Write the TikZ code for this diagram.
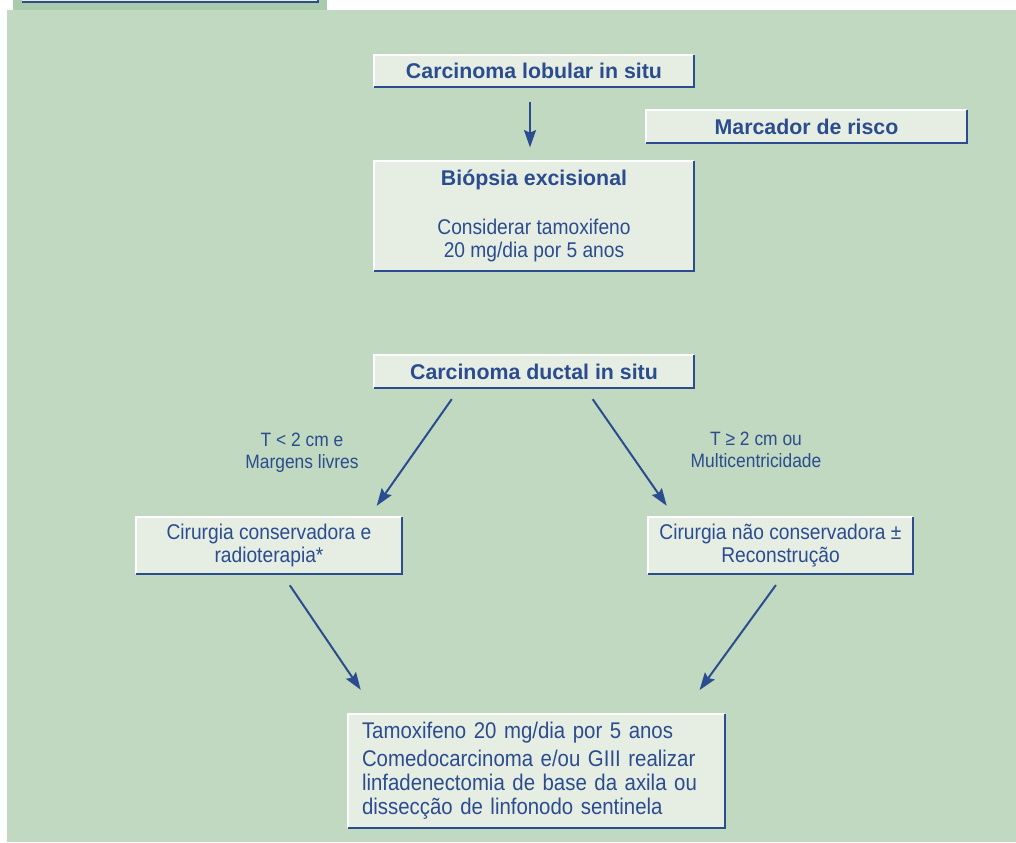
\documentclass[tikz,border=0pt]{standalone}
\usepackage{fontspec}
\setmainfont{Liberation Sans}
\newfontfamily\narrowfont[FakeStretch=0.9]{Liberation Sans}
\usetikzlibrary{arrows.meta,calc}
\definecolor{panelgreen}{HTML}{C0D9C0}
\definecolor{stripgreen}{HTML}{A9CBAB}
\definecolor{boxfill}{HTML}{E6EEE4}
\definecolor{navy}{HTML}{2B4C8E}

\begin{document}
\begin{tikzpicture}[x=0.75pt, y=-0.75pt, >={Stealth[length=13pt,width=9pt,inset=2pt]},
		box/.style={fill=boxfill, inner sep=0pt, text=navy, align=center},
		title/.style={box, font=\bfseries\fontsize{16}{19}\selectfont},
		plain/.style={box, font=\narrowfont\fontsize{16}{17.25}\selectfont},
		cond/.style={text=navy, align=center, inner sep=0pt, font=\narrowfont\fontsize{14.5}{16.5}\selectfont},
		arr/.style={->, draw=navy, fill=navy, line width=1.5pt}]
		\useasboundingbox (0,0) rectangle (1016,842);
		% green panels
		\fill[panelgreen] (7,10) rectangle (1016,842);
		\fill[stripgreen] (13,0) rectangle (327,10);
		\fill[boxfill] (22,0) rectangle (318,2);
		\draw[navy, line width=1.5pt] (22,2) -- (318,2) -- (318,0);
		% lobular branch
		\node[title, minimum width=240pt, minimum height=24pt] (lobular) at (534,71) {Carcinoma lobular in situ};
		\node[title, minimum width=240.75pt, minimum height=24.75pt] (risco) at (806.5,126.5) {Marcador de risco};
		\node[plain, minimum width=240pt, minimum height=82.5pt] (biopsia) at (534,216)
			{{\normalfont\bfseries Biópsia excisional}\\[19.5pt]Considerar tamoxifeno\\20 mg/dia por 5 anos};
		% ductal branch
		\node[title, minimum width=240pt, minimum height=24.75pt] (ductal) at (534,371.5) {Carcinoma ductal in situ};
		\node[plain, minimum width=199.5pt, minimum height=42.75pt] (conserv) at (269,545.5)
			{Cirurgia conservadora e\\radioterapia*};
		\node[plain, minimum width=198.75pt, minimum height=42.75pt] (naoconserv) at (780.5,545.5)
			{Cirurgia não conservadora ±\\Reconstrução};
		\node[plain, align=left, text width=261.75pt, inner xsep=10.5pt, minimum height=85.5pt,
			font=\narrowfont\fontsize{17}{18}\selectfont] (tamox) at (536.5,771)
			{Tamoxifeno 20 mg/dia por 5 anos\\[3pt]Comedocarcinoma e/ou GIII realizar\\linfadenectomia de base da axila ou\\dissecção de linfonodo sentinela};
		% raised borders
		\foreach \n in {lobular,risco,biopsia,ductal,conserv,naoconserv,tamox} {
			\draw[white, line width=1.5pt] (\n.south west) -- (\n.north west) -- (\n.north east);
			\draw[navy, line width=1.5pt] (\n.north east) -- (\n.south east) -- (\n.south west);
		}
		% arrows
		\draw[arr, shorten <=11pt, shorten >=10pt] ($(lobular.south)+(-4,0)$) -- ($(biopsia.north)+(-4,0)$);
		\draw[arr, shorten <=10pt, shorten >=10pt] ($(ductal.south west)+(85.7,0)$) -- ($(conserv.north west)+(233.3,0)$)
			node[cond, midway, left=41pt] (menor) {T < 2 cm e\\Margens livres};
		\draw[arr, shorten <=10pt, shorten >=10pt] ($(ductal.south west)+(211.4,0)$) -- ($(naoconserv.north west)+(26.6,0)$)
			node[cond, midway, right=45pt, yshift=2pt] (maior) {T ≥ 2 cm ou\\Multicentricidade};
		\draw[arr, shorten <=10pt, shorten >=21.7pt] ($(conserv.south west)+(146.6,0)$) -- ($(tamox.north west)+(29.2,0)$);
		\draw[arr, shorten <=10pt, shorten >=22pt] ($(naoconserv.south west)+(136,0)$) -- ($(tamox.north west)+(334.6,0)$);
	\end{tikzpicture}
\end{document}
